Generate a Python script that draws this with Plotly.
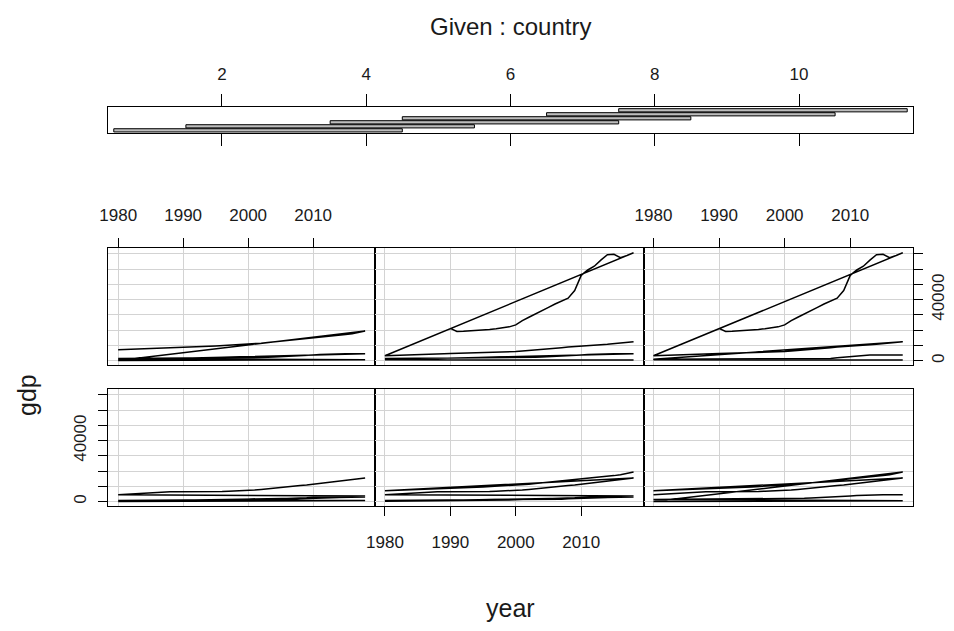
import plotly.graph_objects as go

# ---------------- data ----------------
years = list(range(1980, 2019))

gdp_c1 = [180, 190, 200, 210, 205, 215, 230, 240, 250, 260, 270, 265, 280, 300, 310, 320, 340, 350, 360, 370,
          390, 400, 420, 430, 450, 480, 500, 530, 560, 570, 590, 620, 640, 650, 670, 690, 720, 760, 800]
gdp_c2 = [800, 820, 790, 810, 850, 870, 900, 930, 960, 990, 1000, 1020, 1050, 1080, 1120, 1150, 1200, 1250, 1300, 1380,
          1450, 1480, 1500, 1520, 1530, 1550, 1570, 1600, 1900, 2100, 2400, 2600, 2700, 2750, 2800, 2850, 2900, 2950, 3000]
gdp_c3 = [300, 320, 340, 360, 380, 400, 430, 460, 500, 550, 600, 640, 680, 720, 760, 800, 850, 900, 980, 1100,
          1200, 1300, 1400, 1500, 1650, 1800, 1950, 2100, 2300, 2550, 2800, 3000, 3050, 3200, 3300, 3400, 3500, 3600, 3700]
gdp_c4 = [4600, 4900, 5200, 5500, 5800, 6100, 6400, 6600, 6600, 6500, 6500, 6400, 6300, 6300, 6400, 6500, 6700, 6900, 7000, 7100,
          7300, 7600, 8000, 8500, 9000, 9500, 10000, 10400, 10700, 11000, 11500, 12000, 12600, 13200, 13800, 14300, 14800, 15200, 15500]
gdp_c5 = [7200, 7300, 7400, 7600, 7800, 7900, 8100, 8300, 8500, 8600, 8800, 8900, 9100, 9300, 9500, 9700, 9900, 10100, 10400, 10600,
          10900, 11200, 11500, 11900, 12300, 12700, 13100, 13500, 14000, 14300, 14800, 15300, 15700, 16100, 16600, 17100, 17700, 18500, 19400]
gdp_c6 = [100, 120, 130, 150, 160, 170, 180, 190, 200, 210, 230, 240, 250, 260, 270, 290, 300, 310, 320, 340,
          350, 370, 380, 390, 400, 420, 440, 450, 470, 480, 500, 510, 530, 540, 550, 560, 580, 590, 600]
gdp_c7 = [1500, 1520, 1540, 1550, 1560, 1580, 1600, 1600, 1610, 1620, 1630, 1640, 1650, 1660, 1680, 1700, 1720, 1740, 1760, 1780,
          1800, 1900, 2000, 2200, 2400, 2700, 2900, 3100, 3300, 3500, 3800, 4000, 4200, 4400, 4500, 4500, 4500, 4500, 4500]
gdp_c8 = [600, 620, 640, 650, 640, 630, 620, 610, 600, 580, 560, 540, 520, 500, 480, 460, 440, 420, 400, 380,
          350, 330, 310, 300, 300, 290, 290, 300, 300, 310, 320, 330, 340, 350, 360, 370, 380, 390, 400]
gdp_c9 = [None, None, None, None, None, None, None, None, None, None,
          21200, 19200, 19300, 19500, 19800, 20100, 20500, 21000, 21500, 22200,
          23500, 26300, 28500, 30500, 33000, 35000, 37200, 39200, 41000, 46000,
          56000, 59500, 62000, 66000, 69500, 69800, 67600, 69000, 70800]
gdp_c10 = [3200, 3400, 3600, 3800, 3900, 4000, 4100, 4300, 4500, 4600, 4700, 4800, 4900, 5000, 5100, 5200, 5300, 5400, 5500, 5700,
           6000, 6300, 6600, 6900, 7300, 7700, 8100, 8500, 8900, 9300, 9700, 10000, 10300, 10500, 10800, 11200, 11700, 12100, 12500]
gdp_c11 = [900, 920, 940, 950, 960, 970, 980, 990, 1000, 1000, 1000, 990, 980, 970, 980, 990, 1000, 1000, 1010, 1020,
           1030, 1040, 1050, 1060, 1070, 1080, 1100, 1500, 1900, 2300, 2600, 3000, 3400, 3700, 3700, 3700, 3700, 3700, 3700]

country_ids = [1, 2, 3, 4, 5, 6, 7, 8, 9, 10, 11]
country_gdp = [gdp_c1, gdp_c2, gdp_c3, gdp_c4, gdp_c5, gdp_c6, gdp_c7, gdp_c8, gdp_c9, gdp_c10, gdp_c11]

interval_lo = [0.5, 1.5, 3.5, 4.5, 6.5, 7.5]
interval_hi = [4.5, 5.5, 7.5, 8.5, 10.5, 11.5]

year_ticks = [1980, 1990, 2000, 2010]
gdp_ticks = [0, 10000, 20000, 30000, 40000, 50000, 60000, 70000]
gdp_tick_text = ["0", "", "", "", "40000", "", "", ""]
given_ticks = [2, 4, 6, 8, 10]

# ---------------- layout geometry ----------------
# page body has an 8px margin, so the figure is 16px smaller than the window
OFF = 8
W, H = 938, 615
FONT = "Liberation Sans, Arial, sans-serif"
TXT = "#1a1a1a"
GRID = "#d3d3d3"
TICKSIZE = 17

def xd(a, b):
    return [(a - OFF) / W, (b - OFF) / W]

def yd(top, bottom):
    return [1 - (bottom - OFF) / H, 1 - (top - OFF) / H]

def px_x(a):
    return (a - OFF) / W

def px_y(b):
    return 1 - (b - OFF) / H

col_px = [(108.3, 375.0), (375.0, 643.5), (643.5, 912.7)]
row_px = [(389.3, 506.0), (248.3, 365.0)]  # row 0 = bottom, row 1 = top

fig = go.Figure()
layout = dict(
    template="none",
    width=W, height=H, margin=dict(l=0, r=0, t=0, b=0, pad=0),
    paper_bgcolor="white", plot_bgcolor="white", showlegend=False,
    font=dict(family=FONT, size=TICKSIZE, color=TXT),
)

# given (shingle) panel
layout["xaxis"] = dict(domain=xd(108, 913), range=[0.42, 11.58], anchor="y", automargin=False,
                       tickvals=given_ticks, ticks="outside", ticklen=12, tickcolor="black", tickwidth=1,
                       showticklabels=False, showgrid=False, zeroline=False,
                       showline=True, mirror=True, linecolor="black", linewidth=1)
layout["xaxis2"] = dict(domain=xd(108, 913), range=[0.42, 11.58], anchor="y", overlaying="x", automargin=False,
                        side="top", tickvals=given_ticks, ticks="outside", ticklen=12, tickcolor="black", tickwidth=1,
                        showticklabels=True, ticklabelstandoff=8,
                        tickfont=dict(size=TICKSIZE, family=FONT, color=TXT),
                        showgrid=False, zeroline=False, showline=False)
layout["yaxis"] = dict(domain=yd(107.3, 133.3), range=[0.26, 6.74], anchor="x", automargin=False,
                       showticklabels=False, ticks="", showgrid=False, zeroline=False,
                       showline=True, mirror=True, linecolor="black", linewidth=1)
fig.add_trace(go.Scatter(x=[None], y=[None], xaxis="x2", yaxis="y", hoverinfo="skip"))

shapes = []
for i, (lo, hi) in enumerate(zip(interval_lo, interval_hi)):
    shapes.append(dict(type="rect", xref="x", yref="y", x0=lo, x1=hi, y0=i + 1 - 0.4, y1=i + 1 + 0.4,
                       fillcolor="#bdbdbd", line=dict(color="black", width=1)))

# conditioning panels
for p in range(6):
    row, col = p // 3, p % 3
    n = p + 3
    xa, ya = f"xaxis{n}", f"yaxis{n}"
    xr, yr = f"x{n}", f"y{n}"
    show_x_top = (row == 1 and col in (0, 2))
    show_x_bot = (row == 0 and col == 1)
    show_y_left = (row == 0 and col == 0)
    show_y_right = (row == 1 and col == 2)

    xdict = dict(domain=xd(*col_px[col]), range=[1978.48, 2019.52], anchor=yr, automargin=False,
                 tickvals=year_ticks, showgrid=True, gridcolor=GRID, gridwidth=1, zeroline=False,
                 showline=True, mirror=True, linecolor="black", linewidth=1,
                 tickfont=dict(size=TICKSIZE, family=FONT, color=TXT))
    if show_x_top or show_x_bot:
        xdict.update(ticks="outside", ticklen=9, tickcolor="black", tickwidth=1, showticklabels=True,
                     side="top" if show_x_top else "bottom",
                     ticklabelstandoff=11 if show_x_top else 12)
    else:
        xdict.update(ticks="", showticklabels=False)

    ydict = dict(domain=yd(*row_px[row]), range=[-2830, 73730], anchor=xr, automargin=False,
                 tickvals=gdp_ticks, ticktext=gdp_tick_text, showgrid=True, gridcolor=GRID, gridwidth=1,
                 zeroline=False, showline=True, mirror=True, linecolor="black", linewidth=1,
                 tickangle=-90, tickfont=dict(size=TICKSIZE, family=FONT, color=TXT))
    if show_y_left or show_y_right:
        ydict.update(ticks="outside", ticklen=9, tickcolor="black", tickwidth=1, showticklabels=True,
                     side="left" if show_y_left else "right",
                     ticklabelstandoff=6 if show_y_left else 1)
    else:
        ydict.update(ticks="", showticklabels=False)
    layout[xa] = xdict
    layout[ya] = ydict

    lo, hi = interval_lo[p], interval_hi[p]
    xs, ys = [], []
    for cid, vals in zip(country_ids, country_gdp):
        if lo <= cid <= hi:
            xs.extend(years)
            ys.extend(vals)
    fig.add_trace(go.Scatter(x=xs, y=ys, mode="lines", xaxis=xr, yaxis=yr,
                             line=dict(color="black", width=1.5), connectgaps=False, hoverinfo="skip"))

annotations = [
    dict(text="Given : country", x=px_x(510), y=px_y(27), xref="paper", yref="paper",
         showarrow=False, font=dict(size=24, family=FONT, color=TXT), xanchor="center", yanchor="middle"),
    dict(text="year", x=px_x(510), y=px_y(608), xref="paper", yref="paper",
         showarrow=False, font=dict(size=25, family=FONT, color=TXT), xanchor="center", yanchor="middle"),
    dict(text="gdp", x=px_x(27), y=px_y(395), xref="paper", yref="paper", textangle=-90,
         showarrow=False, font=dict(size=25, family=FONT, color=TXT), xanchor="center", yanchor="middle"),
]
layout["shapes"] = shapes
layout["annotations"] = annotations
fig.update_layout(**layout)
fig.write_html("out.html")
